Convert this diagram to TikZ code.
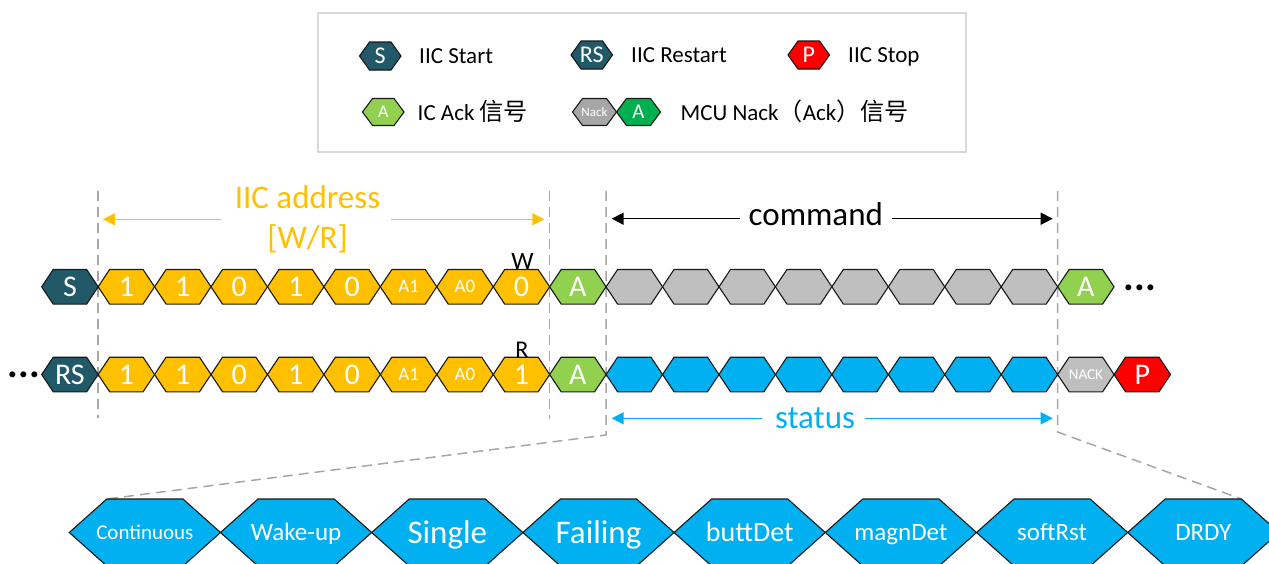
\documentclass[tikz,border=0pt]{standalone}
\usepackage{fontspec}
\setmainfont{Carlito}
\newfontfamily\cjk[Scale=1.05]{Noto Sans CJK SC}
\usetikzlibrary{arrows.meta}
\definecolor{hteal}{HTML}{215968}
\definecolor{hyel}{HTML}{FFC000}
\definecolor{hlgreen}{HTML}{92D050}
\definecolor{hdgreen}{HTML}{00B050}
\definecolor{hgray}{HTML}{BFBFBF}
\definecolor{hdgray}{HTML}{A6A6A6}
\definecolor{hblue}{HTML}{00B0F0}
\definecolor{hred}{HTML}{FF0000}
\definecolor{dashc}{HTML}{A6A6A6}
\definecolor{boxc}{HTML}{D9D9D9}
\newcommand\fs[1]{\fontsize{#1}{#1}\selectfont}
\def\hxw{56.44}\def\hxh{17.3}\def\hxs{11.5}
\newcommand\hexat[6]{%
  \filldraw[hexline,fill=#4] (#2,#3) -- ++(\hxs,-\hxh) -- ++(\hxw-2*\hxs,0) -- ++(\hxs,\hxh) -- ++(-\hxs,\hxh) -- ++(2*\hxs-\hxw,0) -- cycle;
  \node[hextxt,font=\fs{#5}] (#1) at ({#2+\hxw/2},{#3+0.322*#5}) {#6};}
\tikzset{
  hexline/.style={draw=black!90,line width=1.1pt,line join=miter},
  hextxt/.style={text=white,inner sep=0pt,anchor=base},
  lbl/.style={inner sep=0pt,anchor=base},
  dashln/.style={draw=dashc,line width=1.5pt,dash pattern=on 10pt off 6pt},
  tip/.style={-{Triangle[length=12pt,width=12pt]},line width=1.5pt},
}
\begin{document}
\begin{tikzpicture}[x=1pt,y=-1pt]
\useasboundingbox (0,0) rectangle (1269,563);
% legend box
\draw[boxc,line width=1.3pt] (318,13) rectangle (966,152);
% coordinates for dashed guides
\coordinate (d1t) at (98.14,191); \coordinate (d1b) at (98.14,418);
\coordinate (d2t) at (549.66,191); \coordinate (d2b) at (549.66,419);
\coordinate (d3t) at (606.1,191); \coordinate (d3m) at (606.1,435);
\coordinate (d4t) at (1057.6,191); \coordinate (d4m) at (1057.6,432);
\coordinate (btl) at (106.8,499); \coordinate (btr) at (1241.4,499);
\draw[dashln] (d1t) -- (d1b);
\draw[dashln] (d2t) -- (d2b);
\draw[dashln] (d3t) -- (d3m) -- (btl);
\draw[dashln] (d4t) -- (d4m) -- (btr);
% row 1
\foreach \c/\f/\t [count=\i from 0] in {hteal/30/S, hyel/30/1, hyel/30/1, hyel/30/0, hyel/30/1, hyel/30/0, hyel/19/A1, hyel/19/A0, hyel/30/0, hlgreen/30/A, hgray/30/{}, hgray/30/{}, hgray/30/{}, hgray/30/{}, hgray/30/{}, hgray/30/{}, hgray/30/{}, hgray/30/{}, hlgreen/30/A}{
  \pgfmathsetmacro\lx{41.7+56.44*\i}
  \hexat{r1-\i}{\lx}{286.8}{\c}{\f}{\t}
}
% row 2
\foreach \c/\f/\t [count=\i from 0] in {hteal/30/RS, hyel/30/1, hyel/30/1, hyel/30/0, hyel/30/1, hyel/30/0, hyel/19/A1, hyel/19/A0, hyel/30/1, hlgreen/30/A, hblue/30/{}, hblue/30/{}, hblue/30/{}, hblue/30/{}, hblue/30/{}, hblue/30/{}, hblue/30/{}, hblue/30/{}, hgray/15/NACK, hred/30/P}{
  \pgfmathsetmacro\lx{41.7+56.44*\i}
  \hexat{r2-\i}{\lx}{374.5}{\c}{\f}{\t}
}
% bottom row
\def\hxw{151.2}\def\hxh{33.5}\def\hxs{37.5}
\foreach \f/\t [count=\i from 0] in {21/Continuous, 25/Wake-up, 33/Single, 33/Failing, 28/buttDet, 25/magnDet, 25/softRst, 25/DRDY}{
  \pgfmathsetmacro\lx{69.3+151.2*\i}
  \hexat{b-\i}{\lx}{532.5}{hblue}{\f}{\t}
}
% legend hexes
\def\hxw{41.5}\def\hxh{14}\def\hxs{10}
\hexat{l-s}{359.5}{56}{hteal}{24}{S}
\hexat{l-rs}{571}{55}{hteal}{24}{RS}
\hexat{l-p}{788}{55}{hred}{24}{P}
\def\hxh{13.5}
\hexat{l-a}{362.5}{112}{hlgreen}{18}{A}
\def\hxw{44}
\hexat{l-nack}{572.5}{112}{hdgray}{13}{Nack}
\hexat{l-ga}{616.5}{112}{hdgreen}{21}{A}
% legend texts
\node[lbl,anchor=base west,font=\fs{23}] (t-s) at (419,63) {IIC Start};
\node[lbl,anchor=base west,font=\fs{23}] (t-rs) at (631,62) {IIC Restart};
\node[lbl,anchor=base west,font=\fs{23}] (t-p) at (848,62) {IIC Stop};
\node[lbl,anchor=base west,font=\fs{23}] (t-a) at (417.5,120) {IC Ack {\cjk 信号}};
\node[lbl,anchor=base west,font=\fs{23}] (t-n) at (680.5,120) {MCU Nack{\cjk （}Ack{\cjk ）信号}};
% labels
\node[lbl,text=hyel,font=\fs{33}] (addr) at (307.5,208) {IIC address};
\node[lbl,text=hyel,font=\fs{33}] (wr) at (307.5,248) {[W/R]};
\node[lbl,font=\fs{33}] (cmd) at (815.8,225) {command};
\node[lbl,text=hblue,font=\fs{33}] (st) at (815,428) {status};
\node[lbl,font=\fs{25}] (lw) at (522.5,269) {W};
\node[lbl,font=\fs{24}] (lr) at (522,357) {R};
\node[lbl,font=\fs{40}\bfseries] (dots1) at (1140,290) {...};
\node[lbl,font=\fs{40}\bfseries] (dots2) at (24,377) {...};
% arrows
\coordinate (a1s) at (221,219.3); \coordinate (a1e) at (103,219.3);
\coordinate (a2s) at (390.7,219.3); \coordinate (a2e) at (544.3,219.3);
\draw[tip,draw=hyel,fill=hyel] (a1s) -- (a1e);
\draw[tip,draw=hyel,fill=hyel] (a2s) -- (a2e);
\coordinate (c1s) at (740,218.7); \coordinate (c1e) at (611.7,218.7);
\coordinate (c2s) at (891.7,218.7); \coordinate (c2e) at (1052.7,218.7);
\draw[tip] (c1s) -- (c1e);
\draw[tip] (c2s) -- (c2e);
\coordinate (s1s) at (761.7,418.3); \coordinate (s1e) at (611.7,418.3);
\coordinate (s2s) at (865,418.3); \coordinate (s2e) at (1052.7,418.3);
\draw[tip,draw=hblue,fill=hblue] (s1s) -- (s1e);
\draw[tip,draw=hblue,fill=hblue] (s2s) -- (s2e);
\end{tikzpicture}
\end{document}
